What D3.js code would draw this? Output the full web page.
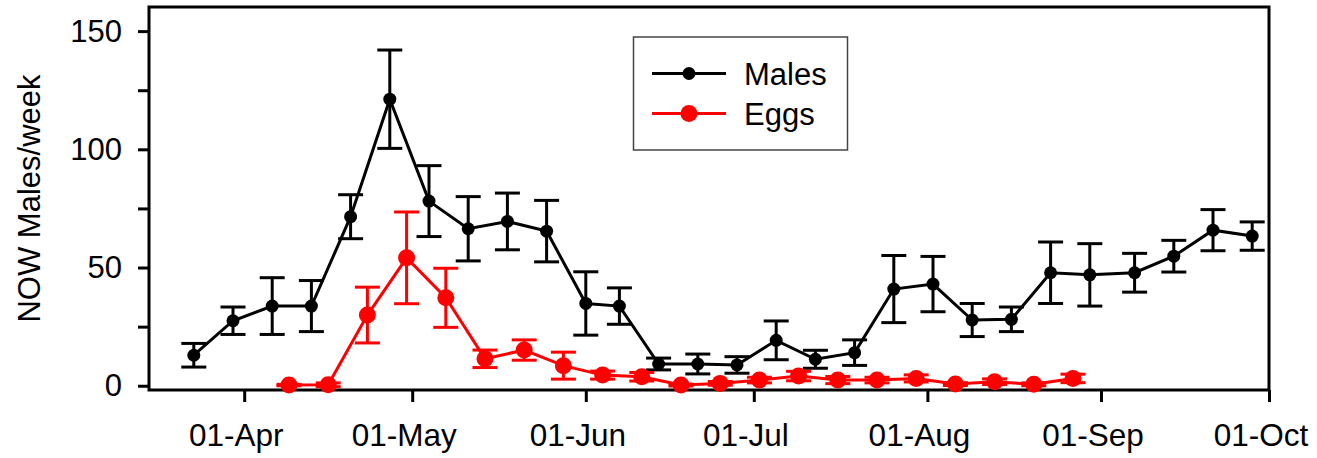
<!DOCTYPE html>
<html>
<head>
<meta charset="utf-8">
<script src="https://cdn.jsdelivr.net/npm/d3@7"></script>
<style>
  html, body { margin: 0; padding: 0; background: #fff; }
  svg { display: block; }
  text { font-family: "Liberation Sans", Arial, sans-serif; }
</style>
</head>
<body>
<svg id="chart" width="1317" height="458"></svg>
<script>
// Weekly trap counts of navel orangeworm males and egg-trap counts (mean ± SE)
const maleDates = ["2009-03-23","2009-03-30","2009-04-06","2009-04-13","2009-04-20","2009-04-27",
  "2009-05-04","2009-05-11","2009-05-18","2009-05-25","2009-06-01","2009-06-07","2009-06-14",
  "2009-06-21","2009-06-28","2009-07-05","2009-07-12","2009-07-19","2009-07-26","2009-08-02",
  "2009-08-09","2009-08-16","2009-08-23","2009-08-30","2009-09-07","2009-09-14","2009-09-21","2009-09-28"];
const maleMeans = [12.9, 27.5, 33.7, 33.7, 71.5, 121.2, 78.1, 66.4, 69.5, 65.4, 34.8, 33.7, 9.2,
  9.2, 8.8, 19.2, 11.2, 14.0, 40.9, 43.0, 27.8, 28.1, 47.8, 46.9, 47.8, 54.8, 65.8, 63.3];
const maleErr = [5.0, 5.8, 12.0, 10.8, 9.3, 20.8, 15.0, 13.6, 12.0, 13.0, 13.4, 7.7, 2.5,
  4.2, 3.5, 8.2, 3.8, 5.4, 14.2, 11.7, 7.0, 5.2, 13.0, 13.2, 8.2, 6.7, 8.7, 6.0];

const eggDates = ["2009-04-09","2009-04-16","2009-04-23","2009-04-30","2009-05-07","2009-05-14",
  "2009-05-21","2009-05-28","2009-06-04","2009-06-11","2009-06-18","2009-06-25","2009-07-02",
  "2009-07-09","2009-07-16","2009-07-23","2009-07-30","2009-08-06","2009-08-13","2009-08-20","2009-08-27"];
const eggMeans = [0.3, 0.4, 29.9, 54.1, 37.2, 11.4, 15.1, 8.5, 4.5, 3.8, 0.3,
  1.0, 2.4, 4.1, 2.4, 2.4, 3.1, 0.7, 1.7, 0.6, 3.1];
const eggErr = [0.3, 0.8, 11.8, 19.4, 12.5, 3.7, 4.3, 5.7, 1.7, 1.8, 0.4,
  0.8, 1.2, 2.0, 1.5, 1.2, 1.5, 0.6, 1.2, 0.6, 1.8];

const yMajorTicks = [0, 50, 100, 150];
const yMinorTicks = [25, 75, 125];
const xDomain = ["2009-03-15", "2009-10-01"];
const yLabel = "NOW Males/week";
const seriesNames = ["Males", "Eggs"];

const parse = d3.utcParse("%Y-%m-%d");
const males = maleDates.map((d, i) => ({ date: parse(d), v: maleMeans[i], e: maleErr[i] }));
const eggs = eggDates.map((d, i) => ({ date: parse(d), v: eggMeans[i], e: eggErr[i] }));

const svg = d3.select("#chart");
const plotL = 149, plotR = 1269, plotT = 7, plotB = 390;

const x = d3.scaleUtc().domain(xDomain.map(parse)).range([plotL, plotR]);
const y = d3.scaleLinear().domain([-1.8, 160.2]).range([plotB, plotT]);

// frame
svg.append("rect")
  .attr("x", plotL).attr("y", plotT)
  .attr("width", plotR - plotL).attr("height", plotB - plotT)
  .attr("fill", "none").attr("stroke", "#000").attr("stroke-width", 3);

// x axis (month ticks)
const xAxis = svg.append("g")
  .attr("transform", `translate(0,${plotB})`)
  .call(d3.axisBottom(x)
    .ticks(d3.utcMonth.every(1))
    .tickFormat(d3.utcFormat("%d-%b"))
    .tickSize(12).tickSizeOuter(0));
xAxis.select(".domain").remove();
xAxis.selectAll(".tick line").attr("stroke", "#000").attr("stroke-width", 3);
xAxis.selectAll(".tick text")
  .attr("y", 56).attr("dy", 0).attr("dx", -8.5)
  .attr("fill", "#000")
  .style("font-size", "31.5px")
  .style("font-family", '"Liberation Sans", Arial, sans-serif');

// y axis: labelled major ticks and unlabelled minor ticks
const yAxis = svg.append("g")
  .attr("transform", `translate(${plotL},0)`)
  .call(d3.axisLeft(y).tickValues(yMajorTicks).tickSize(11).tickPadding(16).tickSizeOuter(0));
yAxis.select(".domain").remove();
yAxis.selectAll(".tick line").attr("stroke", "#000").attr("stroke-width", 3);
yAxis.selectAll(".tick text")
  .attr("fill", "#000")
  .style("font-size", "31px")
  .style("font-family", '"Liberation Sans", Arial, sans-serif');

const yMinor = svg.append("g")
  .attr("transform", `translate(${plotL},0)`)
  .call(d3.axisLeft(y).tickValues(yMinorTicks).tickSize(11).tickFormat(""));
yMinor.select(".domain").remove();
yMinor.selectAll(".tick line").attr("stroke", "#000").attr("stroke-width", 3);

// y axis title
svg.append("text")
  .attr("transform", `translate(40,198.5) rotate(-90)`)
  .attr("text-anchor", "middle")
  .style("font-size", "31px")
  .text(yLabel);

// series
const line = d3.line().x(d => x(d.date)).y(d => y(d.v));
const capHalf = 12.5;

function drawSeries(data, color, r) {
  const g = svg.append("g");
  const eb = g.append("g").attr("stroke", color).attr("stroke-width", 3);
  data.forEach(d => {
    const cx = x(d.date), y0 = y(d.v - d.e), y1 = y(d.v + d.e);
    eb.append("line").attr("x1", cx).attr("x2", cx).attr("y1", y0).attr("y2", y1);
    eb.append("line").attr("x1", cx - capHalf).attr("x2", cx + capHalf).attr("y1", y0).attr("y2", y0);
    eb.append("line").attr("x1", cx - capHalf).attr("x2", cx + capHalf).attr("y1", y1).attr("y2", y1);
  });
  g.append("path").datum(data)
    .attr("d", line)
    .attr("fill", "none").attr("stroke", color).attr("stroke-width", 3);
  g.selectAll("circle").data(data).join("circle")
    .attr("cx", d => x(d.date)).attr("cy", d => y(d.v))
    .attr("r", r).attr("fill", color);
}

drawSeries(males, "#000", 6.5);
drawSeries(eggs, "#ff0000", 8.5);

// legend
const lg = svg.append("g");
lg.append("rect")
  .attr("x", 633.5).attr("y", 37).attr("width", 214).attr("height", 113)
  .attr("fill", "#fff").attr("stroke", "#444").attr("stroke-width", 1.5);
const legendItems = [
  { name: seriesNames[0], color: "#000", r: 6.5, cy: 73.5 },
  { name: seriesNames[1], color: "#ff0000", r: 8.5, cy: 113.5 }
];
legendItems.forEach(it => {
  lg.append("line").attr("x1", 652).attr("x2", 726).attr("y1", it.cy).attr("y2", it.cy)
    .attr("stroke", it.color).attr("stroke-width", 3);
  lg.append("circle").attr("cx", 689).attr("cy", it.cy).attr("r", it.r).attr("fill", it.color);
  lg.append("text").attr("x", 744).attr("y", it.cy + 11)
    .style("font-size", "31px").text(it.name);
});
</script>
</body>
</html>
